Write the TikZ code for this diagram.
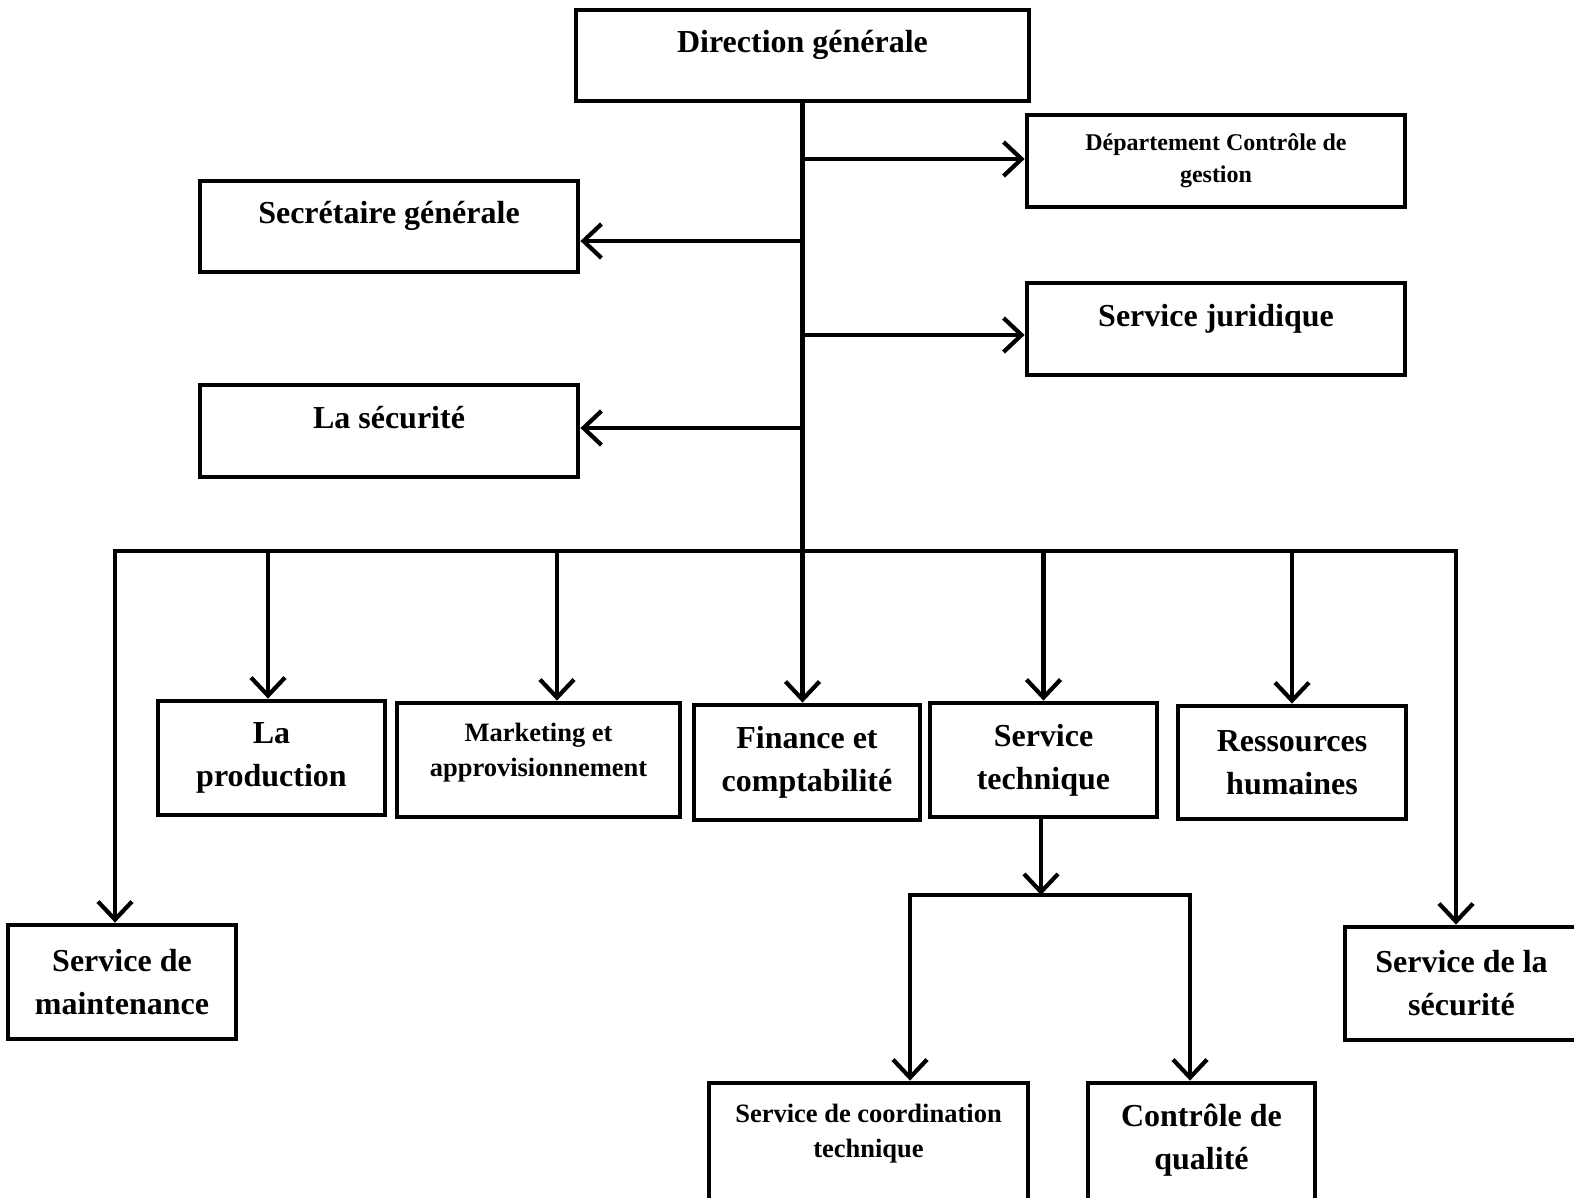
\documentclass[tikz,border=0pt]{standalone}
\usepackage{fontspec}
\setmainfont{Liberation Serif}
\usetikzlibrary{arrows.meta}
\tikzset{
  unit/.style={draw, line width=2.4pt, align=center, inner sep=0pt,
    font=\bfseries\fontsize{16}{21.5}\selectfont},
  medium/.style={font=\bfseries\fontsize{13.25}{17.5}\selectfont},
  small/.style={font=\bfseries\fontsize{12}{16}\selectfont},
  raised/.style={text height=10pt, text depth=12.5pt},
  wire/.style={line width=2.1pt, line cap=rect},
  link/.style={line width=2.1pt, line cap=rect, -{Straight Barb[length=9pt,width=17pt]}},
}
\begin{document}
\begin{tikzpicture}[x=0.5pt,y=-0.5pt]
\clip (0,0) rectangle (1574,1198);
% direction et services rattaches
\node[unit,raised,minimum width=226.5pt,minimum height=45.5pt] (dg) at (802.5,55.5) {Direction générale};
\node[unit,small,minimum width=189pt,minimum height=46pt] (dcg) at (1216,161) {Département Contrôle de\\gestion};
\node[unit,raised,minimum width=189pt,minimum height=45.5pt] (sg) at (389,226.5) {Secrétaire générale};
\node[unit,raised,minimum width=189pt,minimum height=46pt] (sj) at (1216,329) {Service juridique};
\node[unit,raised,minimum width=189pt,minimum height=46pt] (ls) at (389,431) {La sécurité};
% services operationnels
\node[unit,minimum width=113.5pt,minimum height=57pt] (prod) at (271.5,758) {La\\production};
\node[unit,medium,text depth=10.5pt,minimum width=141.5pt,minimum height=57pt] (mkt) at (538.5,760) {Marketing et\\approvisionnement};
\node[unit,minimum width=113pt,minimum height=57.5pt] (fin) at (807,762.5) {Finance et\\comptabilité};
\node[unit,minimum width=113.5pt,minimum height=57pt] (tech) at (1043.5,760) {Service\\technique};
\node[unit,minimum width=114pt,minimum height=56.5pt] (rh) at (1292,762.5) {Ressources\\humaines};
\node[unit,minimum width=114pt,minimum height=57pt] (maint) at (122,982) {Service de\\maintenance};
\node[unit,minimum width=116.5pt,minimum height=56.5pt] (secu) at (1461.5,983.5) {Service de la\\sécurité};
% sous-services techniques
\node[unit,medium,text depth=21pt,minimum width=159.5pt,minimum height=68.5pt] (coord) at (868.5,1151.5) {Service de coordination\\technique};
\node[unit,text depth=15pt,minimum width=113.5pt,minimum height=68.5pt] (cq) at (1201.5,1151.5) {Contrôle de\\qualité};
% liaisons
\coordinate (busL) at (115,551);
\coordinate (busR) at (1456,551);
\draw[wire] (dg.south) -- (dg.south |- busL);
\draw[wire] (busL) -- (busR);
\draw[link] (dg.south |- 0,159) -- (dcg.west |- 0,159);
\draw[link] (dg.south |- 0,241) -- (sg.east |- 0,241);
\draw[link] (dg.south |- 0,335) -- (sj.west |- 0,335);
\draw[link] (dg.south |- 0,428) -- (ls.east |- 0,428);
\draw[link] (busL) -- (busL |- maint.north);
\draw[link] (busL -| 268,0) -- (prod.north -| 268,0);
\draw[link] (busL -| 557,0) -- (mkt.north -| 557,0);
\draw[link] (dg.south |- busL) -- (dg.south |- fin.north);
\draw[link] (tech.north |- busL) -- (tech.north);
\draw[link] (rh.north |- busL) -- (rh.north);
\draw[link] (busR) -- (busR |- secu.north);
\coordinate (subL) at (910,895);
\coordinate (subR) at (1190,895);
\draw[link] (tech.south -| 1041,0) -- (subL -| 1041,0);
\draw[wire] (subL) -- (subR);
\draw[link] (subL) -- (subL |- coord.north);
\draw[link] (subR) -- (subR |- cq.north);
\end{tikzpicture}
\end{document}
